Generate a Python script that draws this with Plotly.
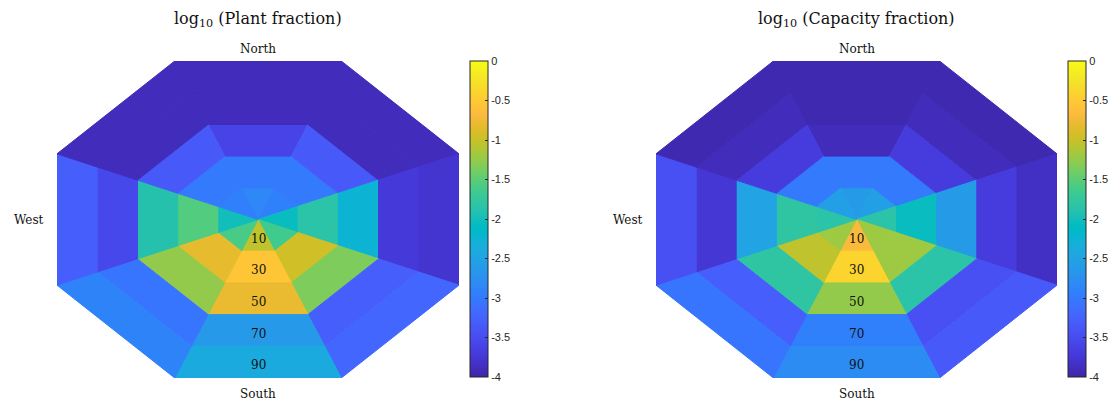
import math
import plotly.graph_objects as go
from plotly.colors import sample_colorscale

# ---------------- data ----------------
directions = ["N", "NE", "E", "SE", "S", "SW", "W", "NW"]
tilt_labels = ["10", "30", "50", "70", "90"]

# log10(Plant fraction): per azimuth sector, tilt rings 10,30,50,70,90
plant_N = [-2.85, -3.00, -3.60, -3.90, -3.90]
plant_NE = [-2.95, -3.00, -3.35, -3.90, -3.90]
plant_E = [-2.05, -1.85, -2.25, -3.72, -3.78]
plant_SE = [-1.65, -0.95, -1.35, -3.30, -3.20]
plant_S = [-1.05, -0.55, -0.80, -2.62, -2.40]
plant_SW = [-1.60, -0.82, -1.25, -3.05, -2.90]
plant_W = [-2.00, -1.55, -1.90, -3.55, -3.30]
plant_NW = [-2.95, -3.00, -3.35, -3.90, -3.90]

# log10(Capacity fraction)
cap_N = [-2.60, -3.00, -3.90, -3.95, -3.95]
cap_NE = [-2.55, -3.00, -3.68, -3.90, -3.95]
cap_E = [-1.85, -2.05, -2.60, -3.70, -3.85]
cap_SE = [-1.20, -1.20, -1.85, -3.45, -3.35]
cap_S = [-0.68, -0.40, -1.25, -2.95, -2.80]
cap_SW = [-1.20, -1.05, -1.80, -3.30, -3.05]
cap_W = [-1.85, -1.80, -2.50, -3.75, -3.45]
cap_NW = [-2.55, -3.00, -3.68, -3.90, -3.95]

plant = [plant_N, plant_NE, plant_E, plant_SE, plant_S, plant_SW, plant_W, plant_NW]
capacity = [cap_N, cap_NE, cap_E, cap_SE, cap_S, cap_SW, cap_W, cap_NW]

panel_titles = ["log<sub>10</sub> (Plant fraction)", "log<sub>10</sub> (Capacity fraction)"]
cbar_tickvals = [0, -0.5, -1, -1.5, -2, -2.5, -3, -3.5, -4]
cbar_ticktext = ["0", "-0.5", "-1", "-1.5", "-2", "-2.5", "-3", "-3.5", "-4"]
cmin, cmax = -4, 0

# ---------------- parula colormap ----------------
parula = [
    (0.2422, 0.1504, 0.6603), (0.2504, 0.1650, 0.7076), (0.2578, 0.1818, 0.7511), (0.2647, 0.1978, 0.7952),
    (0.2706, 0.2147, 0.8364), (0.2751, 0.2342, 0.8710), (0.2783, 0.2559, 0.8991), (0.2803, 0.2782, 0.9221),
    (0.2813, 0.3006, 0.9414), (0.2810, 0.3228, 0.9579), (0.2795, 0.3447, 0.9717), (0.2760, 0.3667, 0.9829),
    (0.2699, 0.3892, 0.9906), (0.2602, 0.4123, 0.9952), (0.2440, 0.4358, 0.9988), (0.2206, 0.4603, 0.9973),
    (0.1963, 0.4847, 0.9892), (0.1834, 0.5074, 0.9798), (0.1786, 0.5289, 0.9682), (0.1764, 0.5499, 0.9520),
    (0.1687, 0.5703, 0.9359), (0.1540, 0.5902, 0.9218), (0.1460, 0.6091, 0.9079), (0.1380, 0.6276, 0.8973),
    (0.1248, 0.6459, 0.8883), (0.1113, 0.6635, 0.8763), (0.0952, 0.6798, 0.8598), (0.0689, 0.6948, 0.8394),
    (0.0297, 0.7082, 0.8163), (0.0036, 0.7203, 0.7917), (0.0067, 0.7312, 0.7660), (0.0433, 0.7411, 0.7394),
    (0.0964, 0.7500, 0.7120), (0.1408, 0.7584, 0.6842), (0.1717, 0.7670, 0.6554), (0.1938, 0.7758, 0.6251),
    (0.2161, 0.7843, 0.5923), (0.2470, 0.7918, 0.5567), (0.2906, 0.7973, 0.5188), (0.3406, 0.8008, 0.4789),
    (0.3909, 0.8029, 0.4354), (0.4456, 0.8024, 0.3909), (0.5044, 0.7993, 0.3480), (0.5616, 0.7942, 0.3045),
    (0.6174, 0.7876, 0.2612), (0.6720, 0.7793, 0.2227), (0.7242, 0.7698, 0.1910), (0.7738, 0.7598, 0.1646),
    (0.8203, 0.7498, 0.1535), (0.8634, 0.7406, 0.1596), (0.9035, 0.7330, 0.1774), (0.9393, 0.7288, 0.2100),
    (0.9728, 0.7298, 0.2394), (0.9956, 0.7434, 0.2371), (0.9970, 0.7659, 0.2199), (0.9952, 0.7893, 0.2028),
    (0.9892, 0.8136, 0.1885), (0.9786, 0.8386, 0.1766), (0.9676, 0.8639, 0.1643), (0.9610, 0.8890, 0.1537),
    (0.9597, 0.9135, 0.1423), (0.9628, 0.9373, 0.1265), (0.9691, 0.9606, 0.1064), (0.9769, 0.9839, 0.0805),
]
n = len(parula)
colorscale = [[i / (n - 1), "rgb(%d,%d,%d)" % tuple(round(c * 255) for c in rgb)] for i, rgb in enumerate(parula)]

# ---------------- figure ----------------
W, H = 1120, 404
fig = go.Figure()

half = math.radians(22.5)
vr = 1 / math.cos(half)
serif = "DejaVu Serif, Liberation Serif, serif"
sans = "Liberation Sans, Arial, sans-serif"

panels = [
    dict(values=plant, xa="x", ya="y", xdom=(57, 459), cbx=470, ca="coloraxis"),
    dict(values=capacity, xa="x2", ya="y2", xdom=(656, 1057), cbx=1068, ca="coloraxis2"),
]
ytop, ybot = 61, 378

annotations = []
for p_i, p in enumerate(panels):
    for k, d in enumerate(directions):
        theta = math.radians(90 - 45 * k)
        a1, a2 = theta + half, theta - half
        for j, v in enumerate(p["values"][k]):
            r0, r1 = j * vr, (j + 1) * vr
            xs = [r0 * math.cos(a1), r1 * math.cos(a1), r1 * math.cos(a2), r0 * math.cos(a2), r0 * math.cos(a1)]
            ys = [r0 * math.sin(a1), r1 * math.sin(a1), r1 * math.sin(a2), r0 * math.sin(a2), r0 * math.sin(a1)]
            col = sample_colorscale(colorscale, [(v - cmin) / (cmax - cmin)])[0]
            fig.add_trace(go.Scatter(
                x=xs, y=ys, mode="lines", fill="toself", fillcolor=col,
                line=dict(color=col, width=1.0), xaxis=p["xa"], yaxis=p["ya"],
                hoverinfo="text", text=f"{d} {tilt_labels[j]}: {v}", showlegend=False))
    # colorbar carrier
    allv = [v for row in p["values"] for v in row]
    fig.add_trace(go.Scatter(
        x=[None] * len(allv), y=[None] * len(allv), mode="markers",
        marker=dict(color=allv, coloraxis=p["ca"]), xaxis=p["xa"], yaxis=p["ya"],
        showlegend=False, hoverinfo="skip"))

    xs_ref = "x" if p_i == 0 else "x2"
    ys_ref = "y" if p_i == 0 else "y2"
    for j, t in enumerate(tilt_labels):
        rr = j + 0.6
        annotations.append(dict(x=0, y=-rr, xref=xs_ref, yref=ys_ref, text=t, showarrow=False,
                                xanchor="center", font=dict(family=serif, size=12, color="#111")))
    annotations.append(dict(x=0, y=5, xref=xs_ref, yref=ys_ref, text="North", showarrow=False,
                            xanchor="center", yanchor="bottom", yshift=3,
                            font=dict(family=serif, size=12, color="#111")))
    annotations.append(dict(x=0, y=-5, xref=xs_ref, yref=ys_ref, text="South", showarrow=False,
                            xanchor="center", yanchor="top", yshift=-7,
                            font=dict(family=serif, size=12, color="#111")))
    annotations.append(dict(x=-5, y=0, xref=xs_ref, yref=ys_ref, text="West", showarrow=False,
                            xanchor="right", xshift=-11, font=dict(family=serif, size=12, color="#111")))
    cx = (p["xdom"][0] + p["xdom"][1]) / 2 / W
    annotations.append(dict(x=cx, y=1 - 19 / H, xref="paper", yref="paper", text=panel_titles[p_i],
                            showarrow=False, xanchor="center", yanchor="middle",
                            font=dict(family=serif, size=16, color="#111")))

def axis(dom, rng):
    return dict(domain=dom, range=rng, visible=False, fixedrange=True)

def cbar(xpx):
    return dict(
        x=xpx / W, xanchor="left", xpad=0, ypad=0,
        y=1 - (ytop + 377) / 2 / H, yanchor="middle", len=(377 - ytop) / H, lenmode="fraction",
        thickness=18, thicknessmode="pixels", outlinewidth=1, outlinecolor="#262626",
        tickvals=cbar_tickvals, ticktext=cbar_ticktext, ticks="inside", ticklen=3,
        tickcolor="#262626", tickfont=dict(family=sans, size=11, color="#262626"))

fig.update_layout(
    width=W, height=H, margin=dict(l=0, r=0, t=0, b=0),
    paper_bgcolor="white", plot_bgcolor="white",
    xaxis=axis([57 / W, 459 / W], [-5, 5]),
    yaxis=axis([1 - ybot / H, 1 - ytop / H], [-5, 5]),
    xaxis2=axis([656 / W, 1057 / W], [-5, 5]),
    yaxis2=axis([1 - ybot / H, 1 - ytop / H], [-5, 5]),
    coloraxis=dict(colorscale=colorscale, cmin=cmin, cmax=cmax, colorbar=cbar(470)),
    coloraxis2=dict(colorscale=colorscale, cmin=cmin, cmax=cmax, colorbar=cbar(1068)),
    annotations=annotations,
)

fig.write_html("out.html", config={"displayModeBar": False},
               post_script="document.body.style.margin='0';document.body.style.overflow='hidden';")
